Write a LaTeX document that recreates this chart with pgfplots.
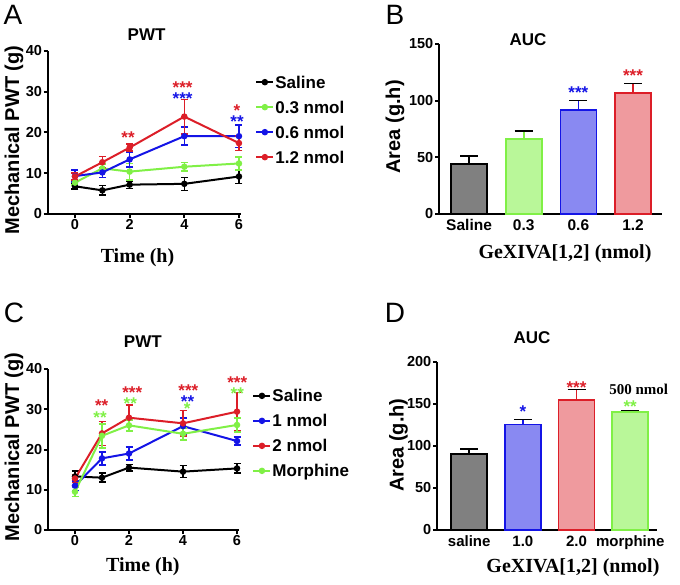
\documentclass[border=0pt]{standalone}
\usepackage{pgfplots}
\pgfplotsset{compat=1.18}
\usepackage{fontspec}
\setmainfont{Liberation Sans}
\newfontfamily\serif{Liberation Serif}
\newcommand\fs[1]{\fontsize{#1}{#1}\selectfont}
\definecolor{cgreen}{RGB}{128,240,70}
\definecolor{cblue}{RGB}{20,20,230}
\definecolor{cred}{RGB}{220,30,40}
\pgfplotsset{
  every axis title shift=0pt,
  panel/.style={scale only axis, axis x line*=bottom, axis y line*=left,
    axis line style={line width=2pt, black}, tick style={line width=2pt, black},
    tick align=outside, major tick length=4pt,
    /pgf/number format/assume math mode=true,
    tick label style={font=\fs{14.5}\bfseries, inner sep=1.5pt},
    title style={font=\fs{17}\bfseries, anchor=center, yshift=0pt},
    ylabel style={font=\fs{20}\bfseries, anchor=center},
    clip=false},
  lineplot/.style={line width=2pt, mark=*, mark size=2.2pt,
    error bars/y dir=both, error bars/y explicit,
    error bars/error bar style={line width=1.6pt},
    error bars/error mark options={rotate=90, mark size=3.5pt, line width=1.6pt}},
  barplot/.style={ybar, bar width=36pt, bar shift=0pt, line width=1.6pt,
    error bars/y dir=plus, error bars/y explicit,
    error bars/error bar style={line width=1.6pt},
    error bars/error mark options={rotate=90, mark size=9pt, line width=1.6pt}},
  leg/.style={legend style={draw=none, fill=none, at={#1}, anchor=north west,
    font=\fs{17}\bfseries, row sep=11pt, inner sep=0pt,
    nodes={inner sep=1pt, text height=12pt, text depth=0pt}},
    legend cell align=left,
    legend image code/.code={\draw[mark repeat=2,mark phase=2,##1] plot coordinates {(0pt,0pt) (8.5pt,0pt) (17pt,0pt)};}},
}
\newcommand\st[4]{\node[text=#1, font=\fs{17}\bfseries, inner sep=0pt, anchor=base, yshift=-9pt] at (axis cs:#2,#3) {#4};}
\begin{document}
\begin{tikzpicture}[x=1pt,y=1pt]
\path[use as bounding box] (0,0) rectangle (680,584);
% ---------- A ----------
\begin{axis}[panel, at={(47.67pt,370pt)}, anchor=south west, width=193.2pt, height=163pt,
  xmin=-1, xmax=6.07, ymin=0, ymax=40, xtick={0,2,4,6}, ytick={0,10,20,30,40},
  title={PWT}, title style={at={(axis description cs:0.512,1.098)}},
  xlabel={Time (h)}, xlabel style={font=\serif\fs{20}\bfseries, at={(axis description cs:0.465,-0.27)}, anchor=center},
  ylabel={Mechanical PWT (g)}, ylabel style={at={(axis description cs:-0.174,0.454)}},
  leg={(1.074,0.853)}]
\addplot[black, lineplot] coordinates {(0,6.8) +- (0,0.7) (1,5.8) +- (0,1.2) (2,7.2) +- (0,0.9) (4,7.4) +- (0,1.6) (6,9.2) +- (0,1.7)};
\addlegendentry{Saline}
\addplot[cgreen, lineplot] coordinates {(0,7.7) +- (0,0.6) (1,11.2) +- (0,1.0) (2,10.4) +- (0,2.0) (4,11.6) +- (0,1.0) (6,12.4) +- (0,1.6)};
\addlegendentry{0.3 nmol}
\addplot[cblue, lineplot] coordinates {(0,9.3) +- (0,1.5) (1,10.2) +- (0,1.2) (2,13.4) +- (0,1.8) (4,19.1) +- (0,2.2) (6,19.1) +- (0,2.8)};
\addlegendentry{0.6 nmol}
\addplot[cred, lineplot] coordinates {(0,9.2) +- (0,0.9) (1,12.7) +- (0,1.4) (2,16.3) +- (0,0.9) (4,23.9) +- (0,4.2) (6,17.4) +- (0,1.8)};
\addlegendentry{1.2 nmol}
\st{cred}{1.94}{19.6}{**}
\st{cred}{3.94}{31.7}{***}
\st{cblue}{3.94}{29.05}{***}
\st{cred}{5.93}{26.2}{*}
\st{cblue}{5.93}{23.5}{**}
\end{axis}
% ---------- B ----------
\begin{axis}[panel, at={(439pt,370pt)}, anchor=south west, width=223pt, height=170pt,
  xmin=-0.55, xmax=3.53, ymin=0, ymax=150, xtick={0,1,2,3}, ytick={0,50,100,150},
  xticklabels={Saline,0.3,0.6,1.2}, xtick style={draw=none},
  xticklabel style={font=\fs{15.5}\bfseries},
  title={AUC}, title style={at={(axis description cs:0.399,1.024)}},
  xlabel={GeXIVA[1,2] (nmol)}, xlabel style={font=\serif\fs{20}\bfseries, at={(axis description cs:0.565,-0.235)}, anchor=center},
  ylabel={Area (g.h)}, ylabel style={at={(axis description cs:-0.197,0.512)}}]
\addplot[draw=black, fill=black!50, barplot] coordinates {(0,44) +- (0,7)};
\addplot[draw=cgreen, fill=cgreen!55!white, barplot] coordinates {(1,66) +- (0,7)};
\addplot[draw=cblue, fill=cblue!50!white, barplot] coordinates {(2,92) +- (0,8)};
\addplot[draw=cred, fill=cred!45!white, barplot] coordinates {(3,106.5) +- (0,8.5)};
\st{cblue}{2}{110}{***}
\st{cred}{3}{124.7}{***}
\end{axis}
% ---------- C ----------
\begin{axis}[panel, at={(48pt,54pt)}, anchor=south west, width=190.9pt, height=161pt,
  xmin=-1, xmax=6.07, ymin=0, ymax=40, xtick={0,2,4,6}, ytick={0,10,20,30,40},
  title={PWT}, title style={at={(axis description cs:0.497,1.168)}},
  xlabel={Time (h)}, xlabel style={font=\serif\fs{20}\bfseries, at={(axis description cs:0.497,-0.23)}, anchor=center},
  ylabel={Mechanical PWT (g)}, ylabel style={at={(axis description cs:-0.178,0.516)}},
  leg={(1.07,0.878)}]
\addplot[black, lineplot] coordinates {(0,13.3) +- (0,1.3) (1,13.0) +- (0,1.1) (2,15.5) +- (0,0.8) (4,14.5) +- (0,1.5) (6,15.3) +- (0,1.2)};
\addlegendentry{Saline}
\addplot[cblue, lineplot] coordinates {(0,11.0) +- (0,1.2) (1,17.8) +- (0,1.6) (2,19.0) +- (0,1.6) (4,25.8) +- (0,2.0) (6,22.1) +- (0,1.0)};
\addlegendentry{1 nmol}
\addplot[cred, lineplot] coordinates {(0,12.8) +- (0,1.0) (1,24.0) +- (0,3.0) (2,27.9) +- (0,3.2) (4,26.5) +- (0,3.2) (6,29.4) +- (0,4.8)};
\addlegendentry{2 nmol}
\addplot[cgreen, lineplot] coordinates {(0,9.5) +- (0,1.2) (1,23.4) +- (0,3.0) (2,26.0) +- (0,1.4) (4,23.9) +- (0,1.5) (6,26.1) +- (0,1.8)};
\addlegendentry{Morphine}
\st{cred}{0.99}{31.6}{**}
\st{cgreen}{0.93}{28.6}{**}
\st{cred}{2.12}{35.0}{***}
\st{cgreen}{2.05}{32.1}{**}
\st{cred}{4.2}{35.5}{***}
\st{cblue}{4.17}{32.7}{**}
\st{cgreen}{4.15}{30.9}{*}
\st{cred}{6.01}{37.3}{***}
\st{cgreen}{6.01}{34.6}{**}
\end{axis}
% ---------- D ----------
\begin{axis}[panel, at={(437pt,54pt)}, anchor=south west, width=220pt, height=168pt,
  xmin=-0.6, xmax=3.5, ymin=0, ymax=200, xtick={0,1,2,3}, ytick={0,50,100,150,200},
  xticklabels={saline,1.0,2.0,morphine}, xtick style={draw=none},
  xticklabel style={font=\fs{15}\bfseries},
  title={AUC}, title style={at={(axis description cs:0.432,1.143)}},
  xlabel={GeXIVA[1,2] (nmol)}, xlabel style={font=\serif\fs{20}\bfseries, at={(axis description cs:0.618,-0.226)}, anchor=center},
  ylabel={Area (g.h)}, ylabel style={at={(axis description cs:-0.175,0.506)}}]
\addplot[draw=black, fill=black!50, barplot] coordinates {(0,90.7) +- (0,5.5)};
\addplot[draw=cblue, fill=cblue!50!white, barplot] coordinates {(1,125.5) +- (0,6)};
\addplot[draw=cred, fill=cred!45!white, barplot] coordinates {(2,154.5) +- (0,13)};
\addplot[draw=cgreen, fill=cgreen!55!white, barplot] coordinates {(3,140.5) +- (0,2)};
\st{cblue}{1}{145}{*}
\st{cred}{2}{173}{***}
\st{cgreen}{3}{150.3}{**}
\node[font=\serif\fs{15}\bfseries, anchor=center] at (axis cs:3.16,168) {500 nmol};
\end{axis}
% panel letters
\node[font=\fs{28}, inner sep=0pt] at (13,569) {A};
\node[font=\fs{28}, inner sep=0pt] at (395,569) {B};
\node[font=\fs{28}, inner sep=0pt] at (14,271) {C};
\node[font=\fs{28}, inner sep=0pt] at (395,271) {D};
\end{tikzpicture}
\end{document}
